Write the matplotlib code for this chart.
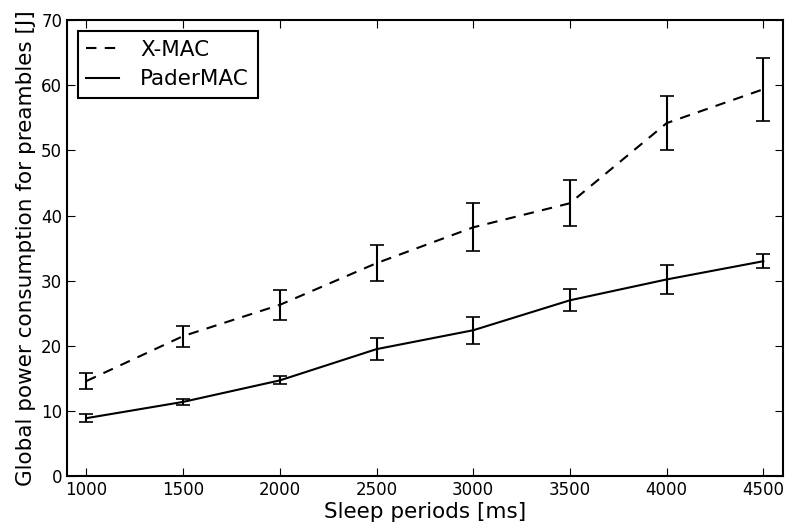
import matplotlib
matplotlib.use('Agg')
import matplotlib.pyplot as plt
from matplotlib.lines import Line2D

periods = [1000, 1500, 2000, 2500, 3000, 3500, 4000, 4500]
xmac = [14.6, 21.5, 26.3, 32.7, 38.2, 41.9, 54.2, 59.4]
xmac_err = [1.2, 1.6, 2.3, 2.8, 3.7, 3.5, 4.2, 4.8]
padermac = [8.9, 11.4, 14.7, 19.5, 22.4, 27.0, 30.2, 33.0]
padermac_err = [0.6, 0.45, 0.6, 1.7, 2.1, 1.7, 2.2, 1.1]

fig = plt.figure(figsize=(7.89, 5.32), dpi=100)
ax = fig.add_axes([0.085, 0.105, 0.907, 0.857])

ax.errorbar(periods, xmac, yerr=xmac_err, color='k', linestyle='--', dashes=(5, 4),
            linewidth=1.5, elinewidth=1.5, capsize=5, capthick=1.2)
ax.errorbar(periods, padermac, yerr=padermac_err, color='k', linestyle='-',
            linewidth=1.5, elinewidth=1.5, capsize=5, capthick=1.2)

ax.set_xlim(900, 4600)
ax.set_ylim(0, 70)
ax.set_xticks(periods)
ax.tick_params(direction='in', top=True, right=True, labelsize=12, length=6, width=0.8)
for s in ax.spines.values():
    s.set_linewidth(1.5)
ax.set_xlabel('Sleep periods [ms]', fontsize=15.5, labelpad=2)
ax.set_ylabel('Global power consumption for preambles [J]', fontsize=15.5, labelpad=4)

handles = [Line2D([], [], color='k', linestyle='--', dashes=(5, 4), linewidth=1.5),
           Line2D([], [], color='k', linestyle='-', linewidth=1.5)]
leg = ax.legend(handles, ['X-MAC', 'PaderMAC'], loc='upper left', fontsize=15.5,
                fancybox=False, framealpha=1, edgecolor='k', handlelength=1.5,
                handletextpad=1.0, borderaxespad=0.5, labelspacing=0.45)
leg.get_frame().set_linewidth(1.5)

fig.savefig('out.png', dpi=100)
